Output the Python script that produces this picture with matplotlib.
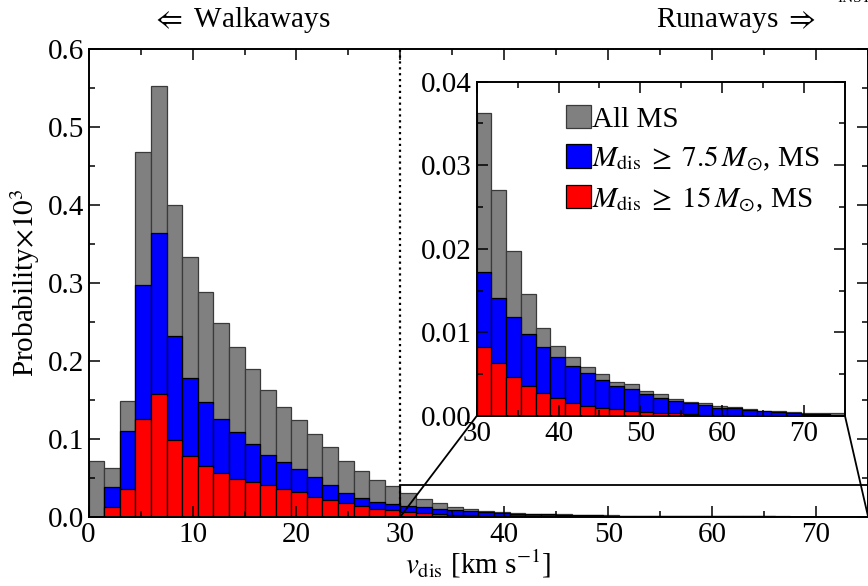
import numpy as np
import matplotlib
matplotlib.use("Agg")
import matplotlib.pyplot as plt
from matplotlib.patches import Rectangle, ConnectionPatch
from matplotlib.ticker import MultipleLocator

plt.rcParams['font.family'] = ['Liberation Serif', 'DejaVu Serif']
plt.rcParams['mathtext.fontset'] = 'stix'

# main histogram: 1.5 km/s bins from 0 to 75 (probability x 10^3)
main_width = 1.5
main_edges = np.arange(0, 75, main_width)
all_ms = [0.072, 0.063, 0.149, 0.468, 0.553, 0.400, 0.333, 0.288, 0.249, 0.218,
          0.189, 0.162, 0.141, 0.124, 0.106, 0.089, 0.072, 0.0585, 0.047, 0.039,
          0.030, 0.0232, 0.0175, 0.0128, 0.0096, 0.0075, 0.0060, 0.0048, 0.0040, 0.0033,
          0.0028, 0.0023, 0.0019, 0.0016, 0.0013, 0.0011, 0.0009, 0.0008, 0.0007, 0.0006,
          0.0005, 0.0004, 0.0004, 0.0003, 0.0003, 0.0002, 0.0002, 0.0002, 0.0002, 0.0001]
m75_ms = [0.0, 0.0376, 0.110, 0.297, 0.364, 0.232, 0.178, 0.147, 0.125, 0.108,
          0.0932, 0.0795, 0.0697, 0.0607, 0.0504, 0.0406, 0.0303, 0.0244, 0.0192, 0.0166,
          0.0141, 0.0118, 0.0098, 0.0084, 0.0070, 0.0058, 0.0048, 0.0040, 0.0034, 0.0029,
          0.0025, 0.0021, 0.0017, 0.0014, 0.0012, 0.0010, 0.0008, 0.0007, 0.0006, 0.0005,
          0.0004, 0.0004, 0.0003, 0.0003, 0.0002, 0.0002, 0.0002, 0.0002, 0.0001, 0.0001]
m15_ms = [0.0, 0.0128, 0.0359, 0.125, 0.158, 0.0987, 0.0782, 0.0654, 0.0556, 0.0487,
          0.044, 0.0402, 0.0355, 0.0316, 0.0256, 0.0218, 0.0171, 0.0132, 0.0103, 0.0085,
          0.0064, 0.0050, 0.0038, 0.0027, 0.0019, 0.0014, 0.0010, 0.0008, 0.0006, 0.0005,
          0.0004, 0.0003, 0.0002, 0.0002, 0.0001, 0.0001, 0.0001, 0.0001, 0.00005, 0.00005,
          0, 0, 0, 0, 0, 0, 0, 0, 0, 0]

# inset histogram: 1.8 km/s bins from 30 to 75
ins_width = 1.8
ins_edges = 30 + ins_width * np.arange(25)
ins_all = [0.0363, 0.0271, 0.0198, 0.0146, 0.0105, 0.0084, 0.0070, 0.0059, 0.0050, 0.0041,
           0.0038, 0.0030, 0.0026, 0.0020, 0.0017, 0.0015, 0.0012, 0.0011, 0.0008, 0.00064,
           0.00056, 0.0005, 0.0003, 0.0003, 0.0003]
ins_m75 = [0.0172, 0.0141, 0.0118, 0.0098, 0.0083, 0.0071, 0.0060, 0.0051, 0.0043, 0.0036,
           0.0032, 0.0026, 0.0022, 0.0018, 0.0015, 0.0013, 0.0010, 0.0009, 0.0007, 0.0006,
           0.0005, 0.0004, 0.00025, 0.00025, 0.00016]
ins_m15 = [0.0082, 0.0063, 0.0047, 0.0036, 0.0028, 0.0021, 0.0016, 0.0012, 0.00096, 0.0008,
           0.0006, 0.0005, 0.00036, 0.0003, 0.0002, 0.00016, 0.0001, 0.0001, 0.00005, 0.00005,
           0, 0, 0, 0, 0]

labels = ['All MS', r'$M_{\rm dis} \; \geq \; 7.5\,M_{\odot}$, MS',
          r'$M_{\rm dis} \; \geq \; 15\,M_{\odot}$, MS']
colors = ['#808080', '#0000ff', '#ff0000']
edges = ['#3a3a3a', 'k', 'k']

fs = 21


def style(ax, xmaj, xmin, ymaj, ymin):
    ax.xaxis.set_major_locator(MultipleLocator(xmaj))
    ax.xaxis.set_minor_locator(MultipleLocator(xmin))
    ax.yaxis.set_major_locator(MultipleLocator(ymaj))
    ax.yaxis.set_minor_locator(MultipleLocator(ymin))
    ax.tick_params(which='both', direction='in', top=True, right=True, labelsize=fs, width=1.1)
    ax.tick_params(which='major', length=8)
    ax.tick_params(which='minor', length=4.5)
    for s in ax.spines.values():
        s.set_linewidth(1.4)


fig = plt.figure(figsize=(8.68, 5.86), dpi=100)
ax = fig.add_axes([0.1021, 0.1183, 0.898, 0.7981])

for vals, c, ec in zip([all_ms, m75_ms, m15_ms], colors, edges):
    ax.bar(main_edges, vals, width=main_width, align='edge', color=c, edgecolor=ec, linewidth=0.9)

ax.set_xlim(0, 75)
ax.set_ylim(0, 0.6)
style(ax, 10, 5, 0.1, 0.05)
ax.set_xticks(np.arange(0, 71, 10))
ax.set_yticks(np.arange(0, 0.61, 0.1))
ax.set_yticklabels(['%.1f' % v for v in np.arange(0, 0.61, 0.1)])
ax.set_xlabel(r'$v_{\rm dis}$ [km s$^{-1}$]', fontsize=fs, labelpad=0)
ax.set_ylabel(r'Probability$\times10^3$', fontsize=fs, labelpad=4)
ax.axvline(30, color='k', linestyle=':', linewidth=1.6)

ax.add_patch(Rectangle((30, 0), 45, 0.04, fill=False, edgecolor='k', linewidth=1.3, zorder=5))

ax.text(0.195, 1.03, r'$\Leftarrow$ Walkaways', transform=ax.transAxes, fontsize=fs,
        ha='center', va='bottom')
ax.text(0.83, 1.03, r'Runaways $\Rightarrow$', transform=ax.transAxes, fontsize=fs,
        ha='center', va='bottom')
fig.text(0.965, 1.003, 'INST', fontsize=11, ha='left', va='center')

# inset
ins = fig.add_axes([0.5492, 0.2901, 0.4243, 0.5705])
for vals, c, ec, lab in zip([ins_all, ins_m75, ins_m15], colors, edges, labels):
    ins.bar(ins_edges, vals, width=ins_width, align='edge', color=c, edgecolor=ec,
            linewidth=0.9, label=lab)
ins.set_xlim(30, 75)
ins.set_ylim(0, 0.04)
style(ins, 10, 5, 0.01, 0.005)
ins.set_yticks(np.arange(0, 0.041, 0.01))
ins.set_yticklabels(['%.2f' % v for v in np.arange(0, 0.041, 0.01)])
ins.set_xticks(np.arange(30, 71, 10))
ins.legend(loc='upper left', bbox_to_anchor=(0.21, 0.965), frameon=False, fontsize=fs,
           handlelength=0.85, handleheight=0.85, handletextpad=0.05, labelspacing=0.4,
           borderaxespad=0)

for xa, xb in [(0, 30), (1, 75)]:
    con = ConnectionPatch(xyA=(xa, 0), coordsA=ins.transAxes, xyB=(xb, 0), coordsB=ax.transData,
                          color='k', linewidth=1.3)
    con.set_zorder(6)
    fig.add_artist(con)

fig.savefig('out.png', dpi=100)
